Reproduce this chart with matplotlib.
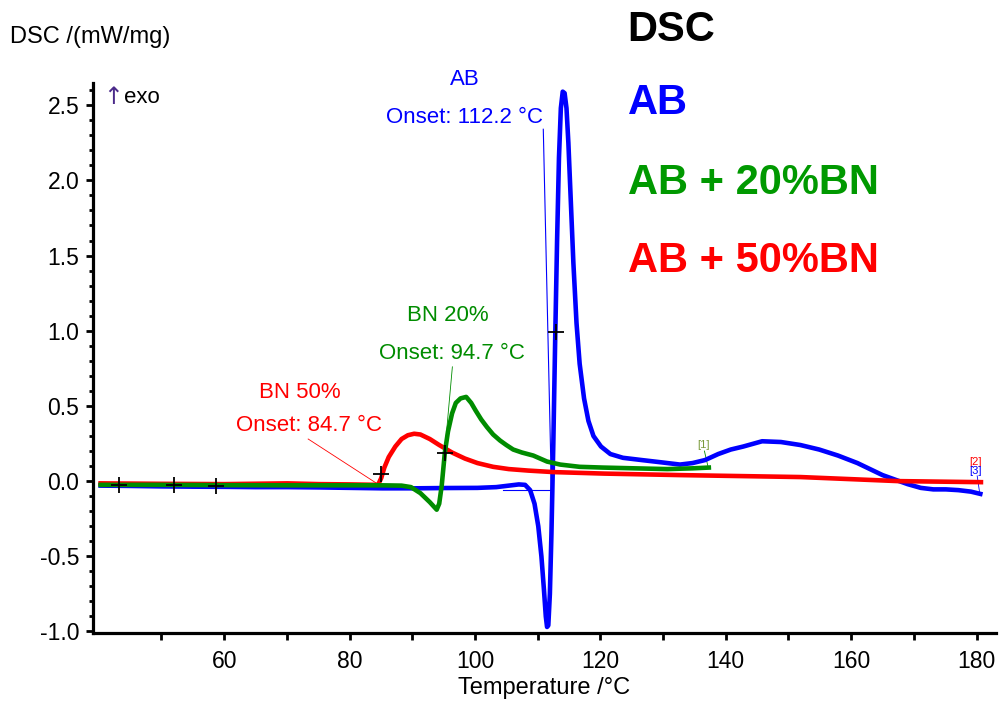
import matplotlib
matplotlib.use("Agg")
import matplotlib.pyplot as plt
from matplotlib.ticker import MultipleLocator, FixedLocator

plt.rcParams['font.family'] = ['Liberation Sans', 'DejaVu Sans']

# AB
ab_t = [40.3, 44.9, 49.9, 55.0, 60.0, 65.0, 70.1, 75.1, 80.2, 85.2, 90.3, 95.3, 100.4, 103.4,
        105.4, 107.0, 108.0, 108.8, 109.5, 110.1, 110.6, 111.0, 111.3, 111.5, 111.7, 111.95,
        112.2, 112.5, 112.8, 113.1, 113.4, 113.7, 114.0, 114.3, 114.6, 114.9, 115.3, 115.7,
        116.2, 116.7, 117.4, 118.1, 118.9, 120.1, 121.6, 123.6, 126.6, 129.7, 132.7, 134.7,
        136.7, 138.8, 140.8, 142.8, 145.8, 148.8, 151.9, 154.9, 157.9, 161.0, 163.0, 165.0,
        167.0, 169.0, 171.1, 173.1, 175.1, 177.1, 179.1, 180.6]
ab_y = [-0.030, -0.032, -0.035, -0.037, -0.038, -0.040, -0.040, -0.042, -0.045, -0.048,
        -0.048, -0.046, -0.045, -0.040, -0.030, -0.022, -0.025, -0.06, -0.15, -0.30, -0.50,
        -0.72, -0.90, -0.97, -0.96, -0.75, -0.35, 0.25, 0.95, 1.60, 2.15, 2.48, 2.59, 2.58,
        2.48, 2.25, 1.85, 1.45, 1.05, 0.78, 0.55, 0.40, 0.30, 0.23, 0.18, 0.155, 0.14, 0.125,
        0.11, 0.12, 0.14, 0.18, 0.21, 0.23, 0.265, 0.26, 0.24, 0.21, 0.17, 0.12, 0.08, 0.04,
        0.01, -0.02, -0.045, -0.055, -0.055, -0.06, -0.07, -0.085]

# AB + 20%BN
g_t = [40.3, 49.9, 60.0, 70.1, 80.2, 85.2, 88.3, 89.8, 91.3, 92.8, 93.9, 94.3, 94.7, 95.2,
       95.7, 96.35, 96.95, 97.7, 98.6, 99.4, 100.1, 101.0, 101.9, 102.9, 104.0, 105.0, 106.1,
       107.5, 109.3, 111.5, 113.6, 116.7, 120.4, 125.4, 130.7, 134.7, 137.3]
g_y = [-0.025, -0.025, -0.027, -0.028, -0.028, -0.028, -0.03, -0.04, -0.08, -0.14, -0.19,
       -0.15, -0.03, 0.19, 0.33, 0.45, 0.52, 0.55, 0.56, 0.52, 0.47, 0.41, 0.36, 0.31, 0.27,
       0.24, 0.21, 0.19, 0.17, 0.13, 0.11, 0.095, 0.09, 0.085, 0.08, 0.085, 0.09]

# AB + 50%BN
r_t = [40.3, 49.9, 60.0, 70.1, 75.1, 80.2, 84.55, 85.05, 85.55, 86.25, 87.3, 88.3, 89.3,
       90.3, 91.3, 92.8, 94.3, 96.35, 98.4, 100.4, 102.9, 105.4, 108.5, 112.5, 120.6, 132.7,
       151.9, 167.5, 180.7]
r_y = [-0.015, -0.018, -0.02, -0.015, -0.02, -0.022, -0.025, 0.02, 0.09, 0.16, 0.23, 0.28,
       0.305, 0.315, 0.31, 0.28, 0.24, 0.19, 0.15, 0.12, 0.095, 0.08, 0.07, 0.06, 0.05, 0.04,
       0.027, 0.0, -0.007]

cross_t = [43.25, 52.0, 58.7, 85.05, 95.25, 112.85]
cross_y = [-0.025, -0.027, -0.03, 0.05, 0.19, 0.99]

blue, green, red = '#0000ff', '#008c00', '#ff0000'

fig = plt.figure(figsize=(10.01, 7.03), dpi=100)
ax = fig.add_axes([0.093, 0.0996, 0.902, 0.782])

ax.plot(ab_t, ab_y, color=blue, lw=3.3, zorder=3)
ax.plot(r_t, r_y, color=red, lw=3.3, zorder=4)
ax.plot(g_t, g_y, color=green, lw=3.3, zorder=5)
ax.plot(cross_t, cross_y, '+', color='black', ms=12, mew=1.3, zorder=6)

# onset callouts
ax.plot([104.5, 112.2], [-0.06, -0.06], color=blue, lw=0.8, zorder=2)
ax.plot([110.9, 112.2], [2.34, -0.06], color=blue, lw=0.8, zorder=2)
ax.plot([96.4, 94.7], [0.76, -0.03], color=green, lw=0.6, zorder=2)
ax.plot([73.4, 84.7], [0.28, -0.025], color=red, lw=0.6, zorder=2)

fs = 16
ax.text(98.4, 2.67, 'AB', color=blue, fontsize=fs, ha='center', va='center', clip_on=False)
ax.text(98.4, 2.42, 'Onset: 112.2 °C', color=blue, fontsize=fs, ha='center', va='center')
ax.text(95.7, 1.10, 'BN 20%', color=green, fontsize=fs, ha='center', va='center')
ax.text(96.4, 0.85, 'Onset: 94.7 °C', color=green, fontsize=fs, ha='center', va='center')
ax.text(72.1, 0.59, 'BN 50%', color=red, fontsize=fs, ha='center', va='center')
ax.text(73.6, 0.37, 'Onset: 84.7 °C', color=red, fontsize=fs, ha='center', va='center')

# small curve tags
ax.text(136.4, 0.24, '[1]', color='#7a9a3a', fontsize=8, ha='center', va='center')
ax.plot([136.6, 137.2], [0.2, 0.09], color=green, lw=0.6)
ax.text(179.9, 0.13, '[2]', color=red, fontsize=8, ha='center', va='center')
ax.text(179.9, 0.065, '[3]', color=blue, fontsize=8, ha='center', va='center')
ax.plot([180.1, 180.5], [0.035, -0.08], color=blue, lw=0.6)

ax.set_xlim(39.1, 183.1)
ax.set_ylim(-1.01, 2.646)
ax.xaxis.set_major_locator(FixedLocator([60, 80, 100, 120, 140, 160, 180]))
ax.xaxis.set_minor_locator(FixedLocator([50, 70, 90, 110, 130, 150, 170]))
ax.yaxis.set_major_locator(MultipleLocator(0.5))
ax.yaxis.set_minor_locator(MultipleLocator(0.1))
ax.yaxis.set_major_formatter(plt.FuncFormatter(lambda v, p: f'{v:.1f}'))

for s in ['top', 'right']:
    ax.spines[s].set_visible(False)
for s in ['left', 'bottom']:
    ax.spines[s].set_linewidth(2.3)
ax.tick_params(axis='both', which='major', labelsize=16.5, width=2, length=5, direction='out')
ax.tick_params(axis='x', which='minor', width=2, length=5, direction='out')
ax.tick_params(axis='y', which='minor', width=2, length=3, direction='out')
ax.tick_params(axis='x', which='major', pad=7)
ax.tick_params(axis='y', which='major', pad=5)

ax.set_xlabel('Temperature /°C', fontsize=17, labelpad=3)

fig.text(0.01, 0.947, 'DSC /(mW/mg)', fontsize=17, ha='left', va='center')
fig.text(0.103, 0.862, '↑', fontsize=17, color='#4b2a8a', ha='left', va='center',
         family=['DejaVu Sans'])
fig.text(0.124, 0.862, 'exo', fontsize=16, ha='left', va='center')

bold = ['Liberation Sans', 'DejaVu Sans']
fig.text(0.627, 0.958, 'DSC', fontsize=30, fontweight='bold', color='black', family=bold,
         va='center')
fig.text(0.627, 0.853, 'AB', fontsize=30, fontweight='bold', color=blue, family=bold,
         va='center')
fig.text(0.627, 0.740, 'AB + 20%BN', fontsize=30, fontweight='bold', color='#009900',
         family=bold, va='center')
fig.text(0.627, 0.629, 'AB + 50%BN', fontsize=30, fontweight='bold', color=red,
         family=bold, va='center')

fig.savefig('out.png', dpi=100)
